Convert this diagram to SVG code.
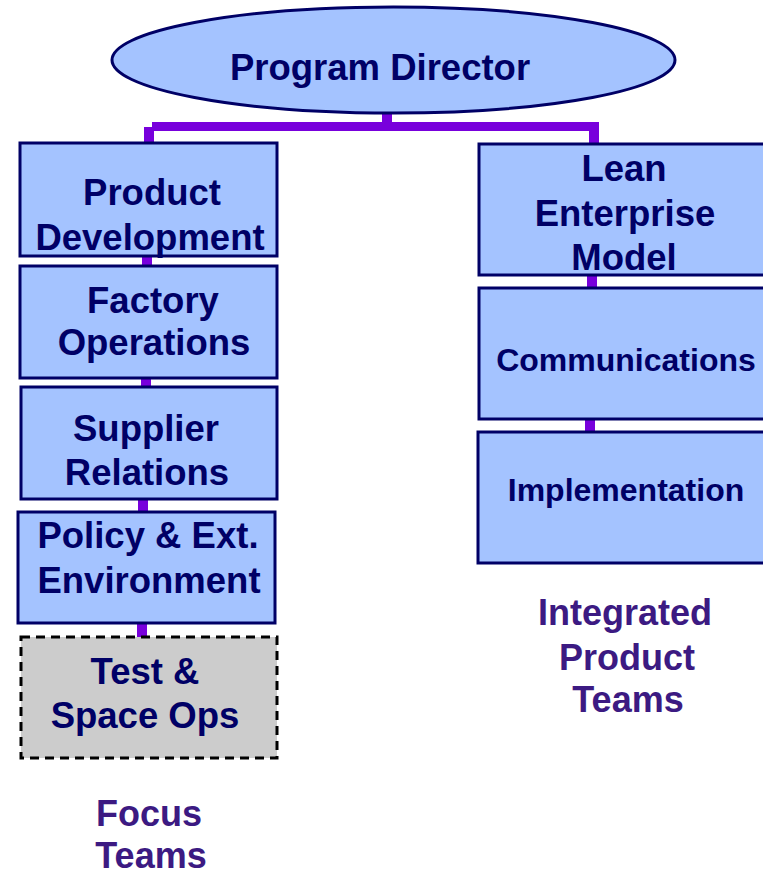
<svg xmlns="http://www.w3.org/2000/svg" width="763" height="876" viewBox="0 0 763 876">
  <style>
    .box { fill: #a4c3ff; stroke: #000066; stroke-width: 3; }
    .dashed { fill: #cccccc; stroke: #000000; stroke-width: 3; stroke-dasharray: 9 6; }
    .lbl { font-family: "Liberation Sans", Arial, sans-serif; font-weight: bold; fill: #000066; text-anchor: middle; font-size: 36.5px; }
    .small { font-size: 32px; }
    .team { font-family: "Liberation Sans", Arial, sans-serif; font-weight: bold; fill: #3c1a82; text-anchor: middle; font-size: 36px; }
    .wire { fill: #7800dc; }
  </style>

  <!-- purple connector bars -->
  <g id="connectors" class="wire">
    <rect x="382" y="112" width="10" height="12"/>
    <rect x="152" y="122" width="440" height="9"/>
    <rect x="144" y="127" width="10" height="17"/>
    <rect x="589" y="122" width="10" height="23"/>
    <rect x="142" y="255" width="10" height="12"/>
    <rect x="141" y="377" width="10" height="11"/>
    <rect x="138" y="498" width="10" height="15"/>
    <rect x="137" y="622" width="10" height="16"/>
    <rect x="587" y="274" width="10" height="15"/>
    <rect x="585" y="418" width="10" height="15"/>
  </g>

  <g id="program-director">
    <ellipse cx="393.5" cy="60" rx="281.5" ry="53" class="box"/>
    <text x="380" y="80" class="lbl" font-size="37">Program Director</text>
  </g>

  <g id="product-development">
    <rect x="20" y="143" width="257" height="113" class="box"/>
    <text x="152" y="205" class="lbl">Product</text>
    <text x="150" y="250" class="lbl">Development</text>
  </g>

  <g id="factory-operations">
    <rect x="20" y="266" width="257" height="112" class="box"/>
    <text x="153" y="313" class="lbl">Factory</text>
    <text x="154" y="355" class="lbl">Operations</text>
  </g>

  <g id="supplier-relations">
    <rect x="21" y="387" width="256" height="112" class="box"/>
    <text x="146" y="441" class="lbl">Supplier</text>
    <text x="147" y="485" class="lbl">Relations</text>
  </g>

  <g id="policy-environment">
    <rect x="18" y="512" width="257" height="111" class="box"/>
    <text x="148" y="548" class="lbl">Policy &amp; Ext.</text>
    <text x="149" y="593" class="lbl">Environment</text>
  </g>

  <g id="test-space-ops">
    <rect x="21" y="637" width="256" height="121" class="dashed"/>
    <text x="145" y="684" class="lbl">Test &amp;</text>
    <text x="145" y="728" class="lbl">Space Ops</text>
  </g>

  <g id="lean-enterprise-model">
    <rect x="479" y="144" width="292" height="131" class="box"/>
    <text x="624" y="181" class="lbl">Lean</text>
    <text x="625" y="226" class="lbl">Enterprise</text>
    <text x="624" y="270" class="lbl">Model</text>
  </g>

  <g id="communications">
    <rect x="479" y="288" width="292" height="131" class="box"/>
    <text x="626" y="371" class="lbl small">Communications</text>
  </g>

  <g id="implementation">
    <rect x="478" y="432" width="293" height="131" class="box"/>
    <text x="626" y="501" class="lbl small">Implementation</text>
  </g>

  <g id="integrated-product-teams">
    <text x="625" y="625" class="team">Integrated</text>
    <text x="627" y="670" class="team">Product</text>
    <text x="628" y="712" class="team">Teams</text>
  </g>

  <g id="focus-teams">
    <text x="149" y="826" class="team">Focus</text>
    <text x="151" y="868" class="team">Teams</text>
  </g>
</svg>
